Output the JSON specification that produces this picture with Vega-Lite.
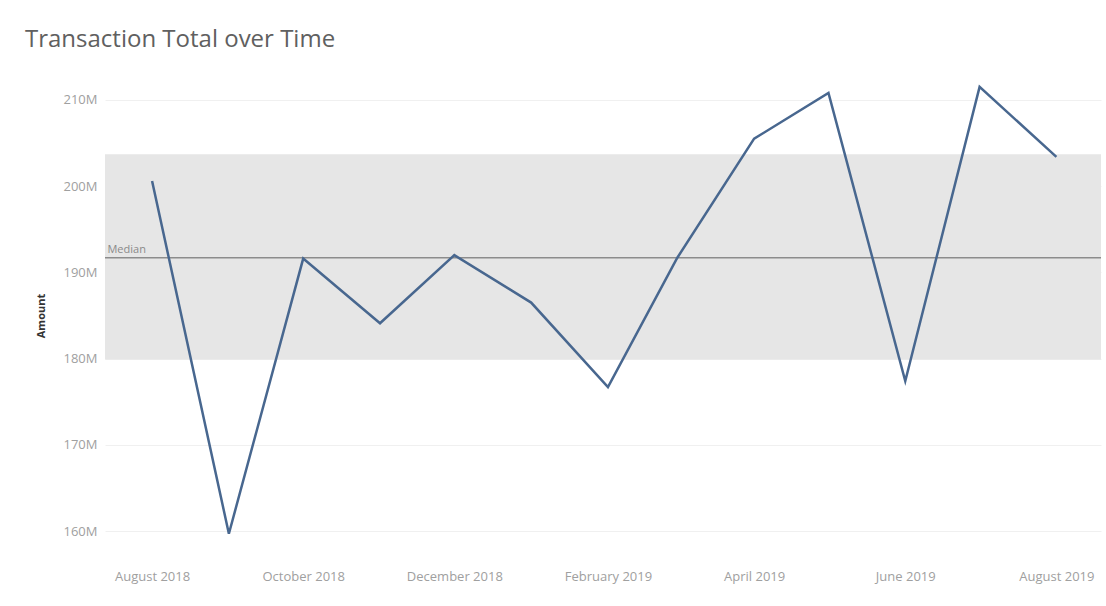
{
  "$schema": "https://vega.github.io/schema/vega-lite/v6.json",
  "autosize": {"type": "none"},
  "width": 996,
  "height": 483,
  "padding": {"left": 105, "top": 74, "right": 5, "bottom": 49},
  "background": "white",
  "config": {
    "font": "Open Sans",
    "view": {"stroke": null},
    "axis": {"labelColor": "#a0a0a0", "labelFontSize": 13, "domain": false, "ticks": false}
  },
  "title": {
    "text": "Transaction Total over Time",
    "anchor": "start",
    "frame": "group",
    "dx": -80,
    "offset": 22,
    "fontSize": 24,
    "fontWeight": "normal",
    "color": "#606060",
    "font": "Open Sans"
  },
  "datasets": {
    "monthly": [
      {"month": "2018-08-01", "amount": 200600000},
      {"month": "2018-09-01", "amount": 159700000},
      {"month": "2018-10-01", "amount": 191600000},
      {"month": "2018-11-01", "amount": 184100000},
      {"month": "2018-12-01", "amount": 192000000},
      {"month": "2019-01-01", "amount": 186500000},
      {"month": "2019-02-01", "amount": 176700000},
      {"month": "2019-03-01", "amount": 191700000},
      {"month": "2019-04-01", "amount": 205500000},
      {"month": "2019-05-01", "amount": 210800000},
      {"month": "2019-06-01", "amount": 177400000},
      {"month": "2019-07-01", "amount": 211500000},
      {"month": "2019-08-01", "amount": 203400000}
    ],
    "band": [{"low": 179900000, "high": 203700000}],
    "median": [{"label": "Median", "value": 191700000, "month": "2018-07-14"}]
  },
  "layer": [
    {
      "data": {"name": "band"},
      "mark": {"type": "rect", "color": "#e6e6e6"},
      "encoding": {
        "y": {"field": "low", "type": "quantitative", "scale": {"domain": [157000000, 213000000], "nice": false, "zero": false}},
        "y2": {"field": "high"}
      }
    },
    {
      "data": {"name": "median"},
      "mark": {"type": "rule", "color": "#8c8c8c", "strokeWidth": 1.5},
      "encoding": {
        "y": {"field": "value", "type": "quantitative"}
      }
    },
    {
      "data": {"name": "median"},
      "mark": {"type": "text", "align": "left", "baseline": "bottom", "dy": -3, "fontSize": 11, "color": "#8a8a8a"},
      "encoding": {
        "x": {"field": "month", "type": "temporal"},
        "y": {"field": "value", "type": "quantitative"},
        "text": {"field": "label"}
      }
    },
    {
      "data": {"name": "monthly"},
      "mark": {"type": "line", "color": "#48678f", "strokeWidth": 2.5},
      "encoding": {
        "x": {
          "field": "month",
          "type": "temporal",
          "title": null,
          "scale": {"domain": ["2018-07-13", "2019-08-19"]},
          "axis": {
            "values": ["2018-08-01", "2018-10-01", "2018-12-01", "2019-02-01", "2019-04-01", "2019-06-01", "2019-08-01"],
            "format": "%B %Y",
            "grid": false,
            "labelPadding": 13,
            "labelFlush": false
          }
        },
        "y": {
          "field": "amount",
          "type": "quantitative",
          "title": "Amount",
          "scale": {"domain": [157000000, 213000000], "nice": false, "zero": false},
          "axis": {
            "values": [160000000, 170000000, 180000000, 190000000, 200000000, 210000000],
            "labelExpr": "format(datum.value / 1000000, 'd') + 'M'",
            "gridColor": "#f0f0f0",
            "labelPadding": 8,
            "titleFontSize": 11,
            "titleFontWeight": "bold",
            "titleColor": "#333333",
            "titlePadding": 17
          }
        }
      }
    }
  ]
}
